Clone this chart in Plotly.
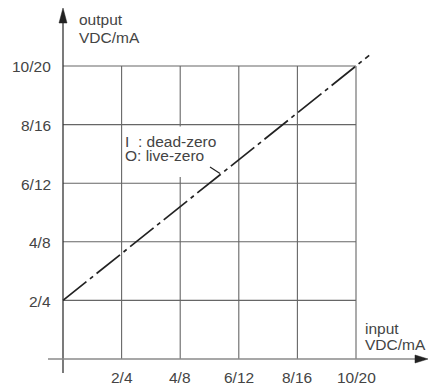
import plotly.graph_objects as go

# ---- data ----
input_v = [0, 10, 10.45]          # input (VDC scale 0..10)
output_v = [2, 10, 10.36]         # output (live-zero 2..10)
grid_vals = [2, 4, 6, 8, 10]
x_tick_text = ["2/4", "4/8", "6/12", "8/16", "10/20"]
y_tick_text = ["2/4", "4/8", "6/12", "8/16", "10/20"]

W, H = 429, 385
X0, Y0, S = 63, 359, 29.3   # pixel origin and pixels per unit


def px2x(px):
    return (px - X0) / S


def py2y(py):
    return (Y0 - py) / S


FONT = "Liberation Sans"
TXT = "#444444"
GRID = "#666666"

shapes = []
# grid (limited to the 0..10 square)
for v in grid_vals:
    shapes.append(dict(type="line", xref="x", yref="y", x0=v, x1=v, y0=0, y1=10,
                       line=dict(color=GRID, width=1.1), layer="below"))
    shapes.append(dict(type="line", xref="x", yref="y", x0=0, x1=10, y0=v, y1=v,
                       line=dict(color=GRID, width=1.1), layer="below"))
# white box behind the legend text
shapes.append(dict(type="rect", xref="x", yref="y", x0=px2x(123), x1=px2x(226),
                   y0=py2y(177), y1=py2y(126.5), fillcolor="white",
                   line=dict(width=0), layer="below"))
# leader line from the legend to the characteristic
shapes.append(dict(type="line", xref="x", yref="y", x0=px2x(210), y0=py2y(167),
                   x1=px2x(220), y1=py2y(173.5), line=dict(color="#222", width=1.2)))
# axes
shapes.append(dict(type="line", xref="x", yref="y", x0=0, x1=0, y0=py2y(373), y1=py2y(22),
                   line=dict(color="#333", width=1.3)))
shapes.append(dict(type="line", xref="x", yref="y", x0=px2x(48), x1=px2x(416), y0=0, y1=0,
                   line=dict(color="#8a8a8a", width=1.6)))
# arrow heads
shapes.append(dict(type="path", xref="x", yref="y",
                   path=f"M {px2x(63)},{py2y(8)} L {px2x(67)},{py2y(23)} L {px2x(59)},{py2y(23)} Z",
                   fillcolor="#222", line=dict(color="#222", width=0.5)))
shapes.append(dict(type="path", xref="x", yref="y",
                   path=f"M {px2x(428)},{py2y(359)} L {px2x(415)},{py2y(355)} L {px2x(415)},{py2y(363)} Z",
                   fillcolor="#222", line=dict(color="#222", width=0.5)))

annotations = []
fs = 15.5
for v, t in zip(grid_vals, y_tick_text):
    annotations.append(dict(x=px2x(53), y=v - 0.03, xref="x", yref="y", text=t,
                            showarrow=False, xanchor="right", yanchor="middle",
                            font=dict(family=FONT, size=fs, color=TXT)))
for v, t in zip(grid_vals, x_tick_text):
    annotations.append(dict(x=v, y=py2y(377), xref="x", yref="y", text=t,
                            showarrow=False, xanchor="center", yanchor="middle",
                            font=dict(family=FONT, size=fs, color=TXT)))


def label(px, py, text):
    annotations.append(dict(x=px2x(px), y=py2y(py), xref="x", yref="y", text=text,
                            showarrow=False, xanchor="left", yanchor="middle",
                            font=dict(family=FONT, size=fs, color=TXT)))


label(77, 19, "output")
label(77, 37, "VDC/mA")
label(363, 328, "input")
label(363, 344, "VDC/mA")
label(123, 141, "I\u00a0\u00a0: dead-zero")
label(123, 155, "O: live-zero")

fig = go.Figure()
fig.add_trace(go.Scatter(x=input_v, y=output_v, mode="lines",
                         line=dict(color="#222", width=1.7, dash="30px,4.5px,4px,4.5px"),
                         hoverinfo="skip", showlegend=False))

fig.update_layout(
    width=W, height=H, margin=dict(l=0, r=0, t=0, b=0),
    paper_bgcolor="white", plot_bgcolor="white",
    xaxis=dict(range=[px2x(0), px2x(W)], visible=False, fixedrange=True),
    yaxis=dict(range=[py2y(H), py2y(0)], visible=False, fixedrange=True),
    shapes=shapes, annotations=annotations, showlegend=False,
)

fig.write_html("out.html", config={"displayModeBar": False},
               post_script="document.body.style.margin='0px';document.body.style.overflow='hidden';")
